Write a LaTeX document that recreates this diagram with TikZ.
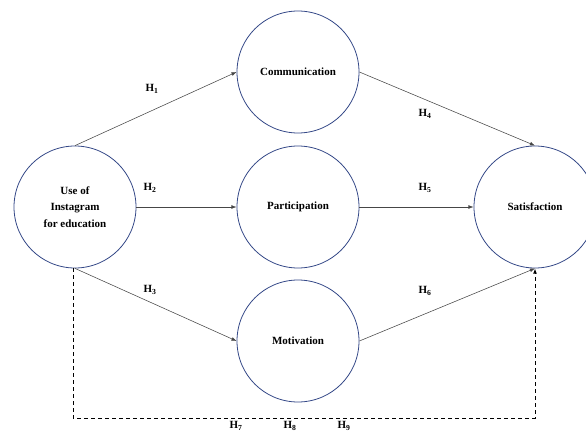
\documentclass[tikz,border=0pt]{standalone}
\usepackage{fontspec}
\setmainfont{Liberation Serif}
\usepackage{tikz}
\usetikzlibrary{arrows.meta,positioning,calc}
\usepackage{xcolor}
\definecolor{circblue}{RGB}{52,72,135}
\definecolor{linegray}{RGB}{70,70,70}
\tikzset{
  construct/.style={circle, draw=circblue, line width=0.8pt, minimum size=122pt, inner sep=0pt, align=center, font=\bfseries\fontsize{11}{16.5}\selectfont},
  hyp/.style={font=\bfseries\fontsize{11}{13}\selectfont, inner sep=1pt},
  arrow/.style={-{Latex[length=1.8mm,width=1.3mm]}, draw=linegray, line width=0.55pt},
  dashedarrow/.style={-{Latex[length=1.8mm,width=1.3mm]}, line width=0.9pt, dash pattern=on 4pt off 3pt}
}

\begin{document}
\begin{tikzpicture}[x=1pt,y=-1pt]
\useasboundingbox (0,0) rectangle (586,433);
\node[construct] (use) at (75,207) {Use of\\Instagram\\for education};
\node[construct] (comm) at (298,72) {Communication};
\node[construct] (part) at (298,207) {Participation};
\node[construct] (motiv) at (298,341) {Motivation};
\node[construct] (sat) at (535,207) {Satisfaction};
\draw[arrow] (use.north) -- (comm.west);
\draw[arrow] (use.east) -- (part.west);
\draw[arrow] (use.south) -- (motiv.west);
\draw[arrow] (comm.east) -- (sat.north);
\draw[arrow] (part.east) -- (sat.west);
\draw[arrow] (motiv.east) -- (sat.south);
\coordinate (dashl) at (73,418);
\draw[dashedarrow] ($(use.south)+(-2,0)$) -- (dashl) -| (sat.south);
\node[hyp] (h1) at (152,89) {H\textsubscript{1}};
\node[hyp] (h2) at (150,188) {H\textsubscript{2}};
\node[hyp] (h3) at (150,290) {H\textsubscript{3}};
\node[hyp] (h4) at (425,114) {H\textsubscript{4}};
\node[hyp] (h5) at (425,188) {H\textsubscript{5}};
\node[hyp] (h6) at (425,291) {H\textsubscript{6}};
\node[hyp] (h7) at (236,426) {H\textsubscript{7}};
\node[hyp] (h8) at (290,426) {H\textsubscript{8}};
\node[hyp] (h9) at (344,426) {H\textsubscript{9}};
\end{tikzpicture}
\end{document}
